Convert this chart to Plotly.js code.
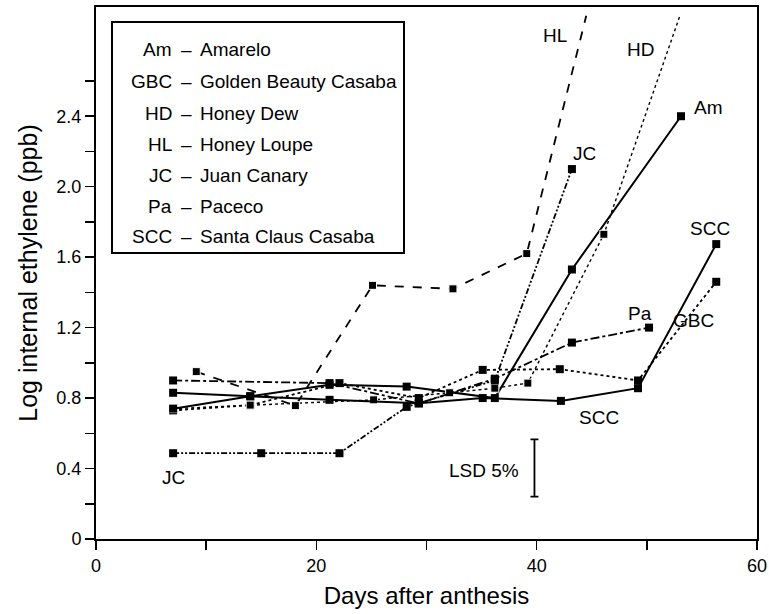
<!DOCTYPE html>
<html>
<head>
<meta charset="utf-8">
<script src="https://cdn.plot.ly/plotly-3.0.1.min.js"></script>
<style>html,body{margin:0;padding:0;background:#fff;}#chart{width:769px;height:614px;}</style>
</head>
<body>
<div id="chart"></div>
<script>
// Days after anthesis / log internal ethylene (ppb) per cultivar
const amDays  = [7, 14, 21.2, 28.2, 36.2, 43.2, 53.1];
const amVals  = [0.83, 0.81, 0.875, 0.865, 0.80, 1.53, 2.40];
const gbcDays = [7, 14, 22.1, 29.3, 35.1, 42.1, 49.2, 56.3];
const gbcVals = [0.73, 0.76, 0.885, 0.80, 0.96, 0.964, 0.90, 1.46];
const hdDays  = [7, 14, 25.2, 32.1, 36.2, 39.2, 46.1, 53.0];
const hdVals  = [0.74, 0.76, 0.79, 0.83, 0.856, 0.885, 1.73, 2.97];
const hlDays  = [9.1, 18.1, 25.1, 32.4, 39.1, 44.5];
const hlVals  = [0.95, 0.757, 1.44, 1.42, 1.62, 2.97];
const jcDays  = [7, 15, 22.1, 28.2, 36.2, 43.2];
const jcVals  = [0.487, 0.487, 0.487, 0.75, 0.90, 2.10];
const paDays  = [7, 21.2, 29.3, 36.2, 43.2, 50.2];
const paVals  = [0.90, 0.885, 0.77, 0.91, 1.115, 1.20];
const sccDays = [7, 14, 21.2, 29.3, 35.1, 42.2, 49.2, 56.3];
const sccVals = [0.74, 0.81, 0.79, 0.77, 0.80, 0.784, 0.856, 1.674];

// LSD (5%) bar
const lsdDay = 39.8;
const lsdCenter = 0.403;
const lsdHalf = 0.163;

// Legend entries
const legendAbbr = ["Am", "GBC", "HD", "HL", "JC", "Pa", "SCC"];
const legendName = ["Amarelo", "Golden Beauty Casaba", "Honey Dew", "Honey Loupe", "Juan Canary", "Paceco", "Santa Claus Casaba"];

// Axis ticks
const xTicks = [0, 20, 40, 60];
const xMinor = [10, 30, 50];
const yTicks = [0, 0.4, 0.8, 1.2, 1.6, 2.0, 2.4];
const yTickText = ["0", "0.4", "0.8", "1.2", "1.6", "2.0", "2.4"];
const yMinor = [0.2, 0.6, 1.0, 1.4, 1.8, 2.2, 2.6];

// Curve labels in the plot
const curveLabels = [
  {t: "HL",  d: 41.7, v: 2.86},
  {t: "HD",  d: 49.4, v: 2.78},
  {t: "Am",  d: 55.6, v: 2.45},
  {t: "JC",  d: 44.3, v: 2.19},
  {t: "SCC", d: 55.7, v: 1.76},
  {t: "Pa",  d: 49.4, v: 1.28},
  {t: "GBC", d: 54.2, v: 1.24},
  {t: "SCC", d: 45.7, v: 0.69},
  {t: "JC",  d: 7.0,  v: 0.35},
  {t: "LSD 5%", d: 35.2, v: 0.39}
];

const ink = "#000";
function series(days, vals, dash, width, sizes) {
  return {
    x: days, y: vals, type: "scatter", mode: "lines+markers",
    line: {color: ink, width: width, dash: dash},
    marker: {symbol: "square", color: ink, size: sizes || 8, opacity: 1},
    showlegend: false, hoverinfo: "skip"
  };
}
const hlSizes = hlDays.map((d, i) => i === hlDays.length - 1 ? 0 : 8);
const hdSizes = hdDays.map((d, i) => i === hdDays.length - 1 ? 0 : 8);

const traces = [
  series(amDays, amVals, "solid", 2),
  series(gbcDays, gbcVals, "dot", 1.8),
  series(hdDays, hdVals, "dot", 1.4, hdSizes),
  series(hlDays, hlVals, "dash", 1.8, hlSizes),
  series(jcDays, jcVals, "6px,2px,2px,2px,2px,2px", 1.8),
  series(paDays, paVals, "dashdot", 1.8),
  series(sccDays, sccVals, "solid", 2),
  {
    x: [lsdDay], y: [lsdCenter], type: "scatter", mode: "markers",
    marker: {size: 0.1, color: "rgba(0,0,0,0)"},
    error_y: {type: "data", array: [lsdHalf], visible: true, color: ink, thickness: 1.8, width: 4},
    showlegend: false, hoverinfo: "skip"
  }
];

const font = "Arial, 'Liberation Sans', sans-serif";
const annotations = curveLabels.map(c => ({
  x: c.d, y: c.v, xref: "x", yref: "y", xanchor: "center", yanchor: "middle",
  text: c.t, showarrow: false,
  font: {family: font, size: 19, color: ink}
}));

// legend box contents
const px0 = 96, pw = 661, py0 = 7, ph = 532;
const rowY = [50, 81.5, 113, 144.5, 175.5, 206, 237];
legendAbbr.forEach((a, i) => {
  const yp = (py0 + ph - rowY[i]) / ph;
  const common = {xref: "paper", yref: "paper", yanchor: "middle", showarrow: false, font: {family: font, size: 19, color: ink}};
  annotations.push(Object.assign({x: (174 - px0) / pw, y: yp, xanchor: "right", text: a}, common));
  annotations.push(Object.assign({x: (186 - px0) / pw, y: yp, xanchor: "center", text: "–"}, common));
  annotations.push(Object.assign({x: (198 - px0) / pw, y: yp, xanchor: "left", text: legendName[i]}, common));
});

const layout = {
  width: 769, height: 614,
  margin: {l: 96, r: 12, t: 7, b: 75},
  paper_bgcolor: "#fff", plot_bgcolor: "#fff",
  font: {family: font, color: ink},
  showlegend: false,
  xaxis: {
    range: [0, 60], showgrid: false, zeroline: false,
    showline: true, linecolor: ink, linewidth: 2, mirror: true,
    tickmode: "array", tickvals: xTicks, ticktext: xTicks.map(String),
    ticks: "outside", ticklen: 9, tickwidth: 1.5, tickcolor: ink,
    minor: {tickmode: "array", tickvals: xMinor, ticks: "outside", ticklen: 9, tickwidth: 1.5, tickcolor: ink},
    tickfont: {family: font, size: 18, color: ink},
    title: {text: "Days after anthesis", font: {family: font, size: 24, color: ink}, standoff: 13},
    automargin: false
  },
  yaxis: {
    range: [0, 3.02], showgrid: false, zeroline: false,
    showline: true, linecolor: ink, linewidth: 2, mirror: true,
    tickmode: "array", tickvals: yTicks, ticktext: yTickText,
    ticks: "outside", ticklen: 9, tickwidth: 1.5, tickcolor: ink,
    minor: {tickmode: "array", tickvals: yMinor, ticks: "outside", ticklen: 9, tickwidth: 1.5, tickcolor: ink},
    tickfont: {family: font, size: 18, color: ink},
    title: {text: "Log internal ethylene (ppb)", font: {family: font, size: 25, color: ink}, standoff: 12},
    automargin: false
  },
  shapes: [{
    type: "rect", xref: "paper", yref: "paper",
    x0: (112 - px0) / pw, x1: (404 - px0) / pw,
    y0: (py0 + ph - 253) / ph, y1: (py0 + ph - 22) / ph,
    line: {color: ink, width: 2}, fillcolor: "rgba(0,0,0,0)"
  }],
  annotations: annotations
};

Plotly.newPlot("chart", traces, layout, {staticPlot: true, displayModeBar: false});
</script>
</body>
</html>
